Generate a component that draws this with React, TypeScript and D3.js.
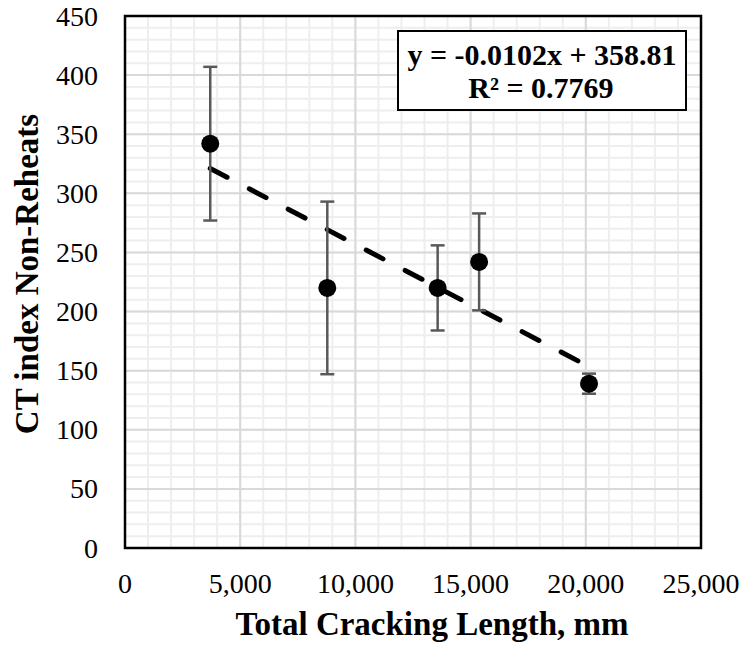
import React from "react";
import * as d3 from "d3";

const xValues = [3700, 8780, 13570, 15370, 20140];
const yValues = [342, 220, 220, 242, 139];
const yErrors = [65, 73, 36, 41, 8.5];
const slope = -0.0102;
const intercept = 358.81;
const xTicks = [0, 5000, 10000, 15000, 20000, 25000];
const yTicks = [0, 50, 100, 150, 200, 250, 300, 350, 400, 450];
const equationText = "y = -0.0102x + 358.81";
const rSquaredText = "R² = 0.7769";
const xTitle = "Total Cracking Length, mm";
const yTitle = "CT index Non-Reheats";

const W = 746;
const H = 645;
const left = 125;
const right = 701;
const top = 16;
const bottom = 548;

export default function App() {
  const x = d3.scaleLinear().domain([0, 25000]).range([left, right]);
  const y = d3.scaleLinear().domain([0, 450]).range([bottom, top]);
  const minorX = d3.range(0, 25001, 1000);
  const minorY = d3.range(0, 451, 10);
  const fmt = d3.format(",");
  const serif = "'Liberation Serif', 'Times New Roman', serif";
  const xMin = d3.min(xValues) as number;
  const xMax = d3.max(xValues) as number;
  const trend = d3.line<number>().x((d) => x(d)).y((d) => y(slope * d + intercept));

  return (
    <svg width={W} height={H} style={{ position: "absolute", left: 0, top: 0, background: "#fff" }}>
      <rect x={0} y={0} width={W} height={H} fill="#fff" />
      {minorX.map((v) => (
        <line key={"mx" + v} x1={x(v)} x2={x(v)} y1={top} y2={bottom} stroke="#eeeeee" strokeWidth={2} />
      ))}
      {minorY.map((v) => (
        <line key={"my" + v} x1={left} x2={right} y1={y(v)} y2={y(v)} stroke="#eeeeee" strokeWidth={2} />
      ))}
      {xTicks.map((v) => (
        <line key={"Mx" + v} x1={x(v)} x2={x(v)} y1={top} y2={bottom} stroke="#d9d9d9" strokeWidth={2} />
      ))}
      {yTicks.map((v) => (
        <line key={"My" + v} x1={left} x2={right} y1={y(v)} y2={y(v)} stroke="#d9d9d9" strokeWidth={2} />
      ))}
      <path d={trend([xMin, xMax]) || ""} fill="none" stroke="#000" strokeWidth={5} strokeDasharray="19 25" strokeLinecap="round" />
      {xValues.map((xv, i) => (
        <g key={"e" + i} stroke="#595959" strokeWidth={2.5}>
          <line x1={x(xv)} x2={x(xv)} y1={y(yValues[i] + yErrors[i])} y2={y(yValues[i] - yErrors[i])} />
          <line x1={x(xv) - 7} x2={x(xv) + 7} y1={y(yValues[i] + yErrors[i])} y2={y(yValues[i] + yErrors[i])} />
          <line x1={x(xv) - 7} x2={x(xv) + 7} y1={y(yValues[i] - yErrors[i])} y2={y(yValues[i] - yErrors[i])} />
        </g>
      ))}
      {xValues.map((xv, i) => (
        <circle key={"p" + i} cx={x(xv)} cy={y(yValues[i])} r={9} fill="#000" />
      ))}
      <rect x={left} y={top} width={right - left} height={bottom - top} fill="none" stroke="#000" strokeWidth={2.5} />
      <rect x={398} y={31} width={288} height={79} fill="#fff" stroke="#000" strokeWidth={2} />
      <text x={542} y={65} textAnchor="middle" fontFamily={serif} fontWeight="bold" fontSize={30}>{equationText}</text>
      <text x={541} y={98} textAnchor="middle" fontFamily={serif} fontWeight="bold" fontSize={30}>{rSquaredText}</text>
      {yTicks.map((v) => (
        <text key={"yt" + v} x={98} y={y(v) + 9.5} textAnchor="end" fontFamily={serif} fontSize={28} fill="#000">{v}</text>
      ))}
      {xTicks.map((v) => (
        <text key={"xt" + v} x={x(v)} y={593} textAnchor="middle" fontFamily={serif} fontSize={28} fill="#000">{fmt(v)}</text>
      ))}
      <text x={432} y={635} textAnchor="middle" fontFamily={serif} fontWeight="bold" fontSize={33}>{xTitle}</text>
      <text transform="translate(38,274) rotate(-90)" textAnchor="middle" fontFamily={serif} fontWeight="bold" fontSize={33}>{yTitle}</text>
    </svg>
  );
}
